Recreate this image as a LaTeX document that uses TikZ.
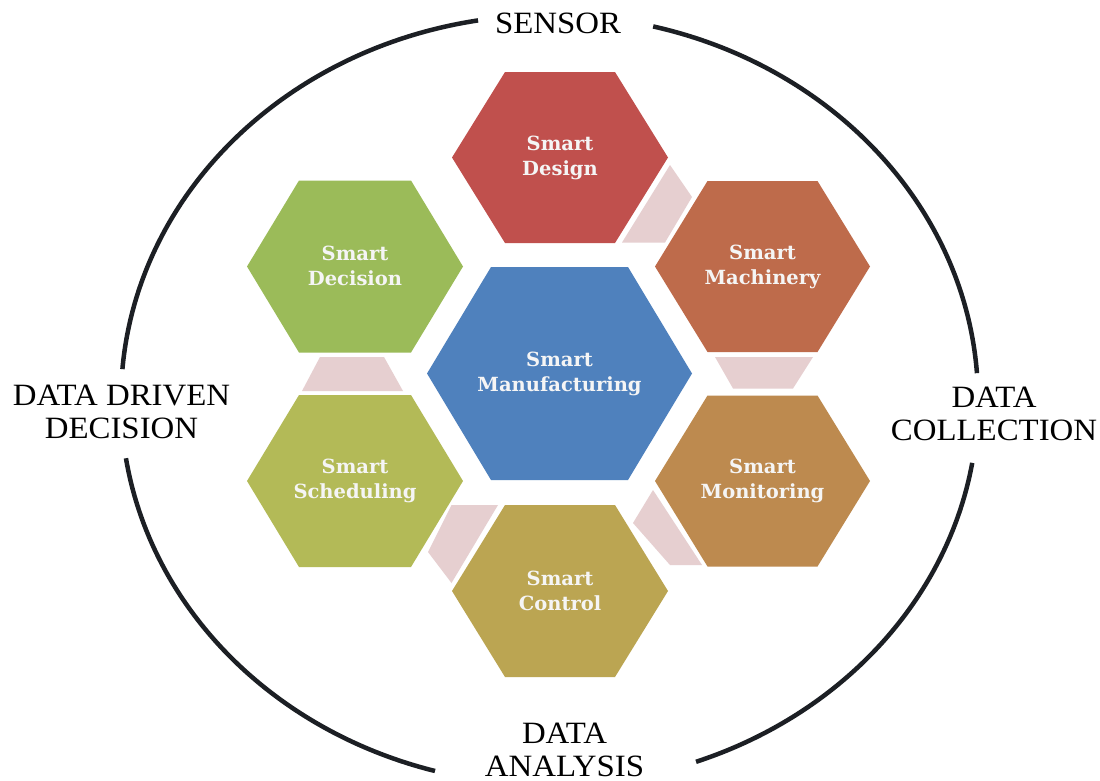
\documentclass[tikz,border=0pt]{standalone}
\usepackage{fontspec}
\setmainfont{Liberation Serif}[FakeStretch=1.06]
\newfontfamily\hexfont{DejaVu Serif}
\definecolor{cdesign}{HTML}{C0504D}
\definecolor{cmach}{HTML}{BE6B4B}
\definecolor{cmon}{HTML}{BD8A4F}
\definecolor{cctrl}{HTML}{BBA552}
\definecolor{csched}{HTML}{B3BA57}
\definecolor{cdec}{HTML}{9BBB59}
\definecolor{cmanu}{HTML}{4F81BD}
\definecolor{cpink}{HTML}{E6CFD0}
\definecolor{cring}{HTML}{1C1F24}
\newcommand\hexfill[6]{%
  \fill[#6] (#1-#3,#2) -- (#1-#5,#2-#4) -- (#1+#5,#2-#4) -- (#1+#3,#2)
    -- (#1+#5,#2+#4) -- (#1-#5,#2+#4) -- cycle;}
\begin{document}
\begin{tikzpicture}[x=1pt,y=-1pt,
  hexlabel/.style={text=white!96!black, align=center, font=\hexfont\bfseries\fontsize{19.5}{25}\selectfont, inner sep=0pt},
  outerlabel/.style={text=black, align=center, font=\fontsize{31}{33}\selectfont, inner sep=0pt},
  ring/.style={draw=cring, line width=4.5pt},
  link/.style={fill=cpink}]
\useasboundingbox (0,0) rectangle (1100,780);
\fill[white] (0,0) rectangle (1100,780);

% outer ring arcs
\coordinate (rc) at (549.5,400);
\draw[ring] ([shift={(284:428.5 and 385)}]rc) arc[start angle=284, end angle=356, x radius=428.5, y radius=385];
\draw[ring] ([shift={(9.4:428.5 and 385)}]rc) arc[start angle=9.4, end angle=70, x radius=428.5, y radius=385];
\draw[ring] ([shift={(105.5:428.5 and 385)}]rc) arc[start angle=105.5, end angle=171.3, x radius=428.5, y radius=385];
\draw[ring] ([shift={(184.6:428.5 and 385)}]rc) arc[start angle=184.6, end angle=260.4, x radius=428.5, y radius=385];

% pink links
\fill[link] (622,242.5) -- (670,165) -- (692,197) -- (665,242.5) -- cycle;
\fill[link] (715,357) -- (813,357) -- (793,388.5) -- (733,388.5) -- cycle;
\fill[link] (653,490) -- (702,565) -- (670,565) -- (633,523) -- cycle;
\fill[link] (451.5,505) -- (498,505) -- (451.5,583) -- (428,552) -- cycle;
\fill[link] (320,357) -- (384,357) -- (403,391) -- (302,391) -- cycle;

% hexagons
\hexfill{560}{157.5}{108}{85.5}{55}{cdesign}
\hexfill{762.5}{266.5}{107.5}{85.5}{55}{cmach}
\hexfill{762.5}{481}{107.5}{85.5}{55}{cmon}
\hexfill{560}{591}{108}{86}{55}{cctrl}
\hexfill{355}{481}{108}{86}{56}{csched}
\hexfill{355}{266.5}{108}{86}{56}{cdec}
\hexfill{559.5}{373.5}{132.5}{106.5}{68.5}{cmanu}

% hexagon labels
\node[hexlabel] (design) at (560,158) {Smart\\Design};
\node[hexlabel] (mach) at (762.5,267) {Smart\\Machinery};
\node[hexlabel] (mon) at (762.5,481) {Smart\\Monitoring};
\node[hexlabel] (ctrl) at (560,591) {Smart\\Control};
\node[hexlabel] (sched) at (355,481) {Smart\\Scheduling};
\node[hexlabel] (dec) at (355,266) {Smart\\Decision};
\node[hexlabel] (manu) at (559.5,374) {Smart\\Manufacturing};

% outer labels
\node[outerlabel] (sensor) at (558,23) {SENSOR};
\node[outerlabel] (ddd) at (121.5,411.5) {DATA DRIVEN\\DECISION};
\node[outerlabel] (dcol) at (994,414) {DATA\\COLLECTION};
\node[outerlabel] (dana) at (564.5,750) {DATA\\ANALYSIS};
\end{tikzpicture}
\end{document}
